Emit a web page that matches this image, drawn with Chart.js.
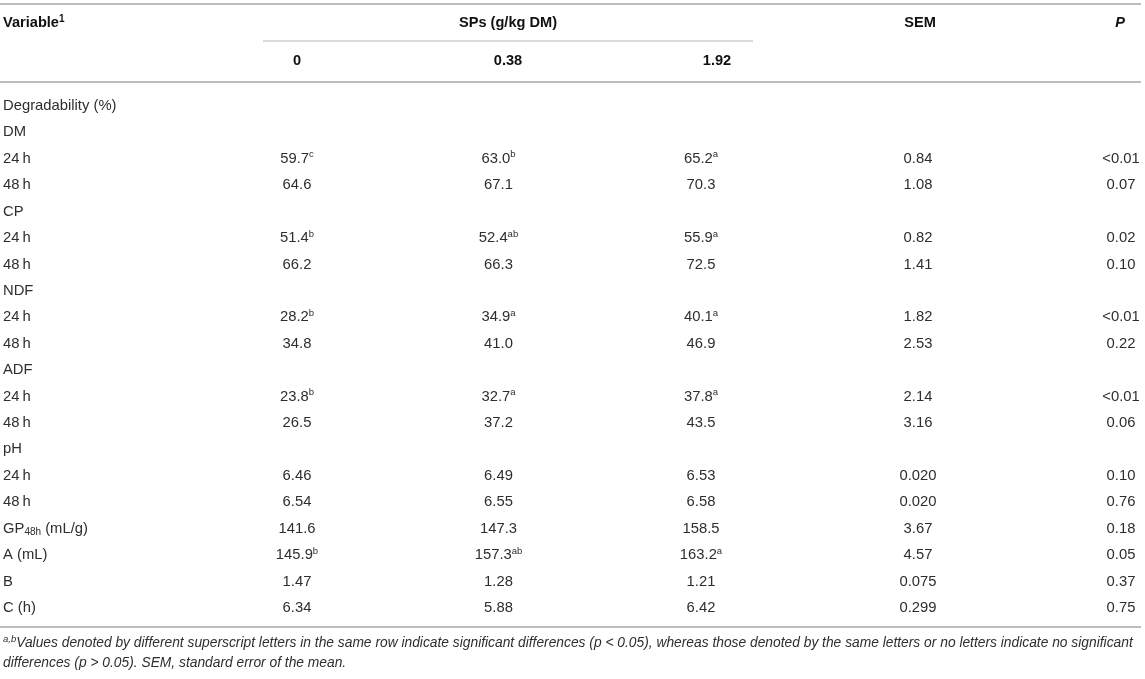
<!DOCTYPE html>
<html>
<head>
<meta charset="utf-8">
<script src="https://cdn.jsdelivr.net/npm/chart.js@4"></script>
<style>
  html, body { margin: 0; padding: 0; background: #ffffff; }
  #wrap { width: 1145px; height: 679px; }
</style>
</head>
<body>
<div id="wrap"><canvas id="c" width="1145" height="679"></canvas></div>
<script>
// ---------------- DATA ----------------
const rowLabels = [
  "Degradability (%)", "DM", "24\u2009h", "48\u2009h", "CP", "24\u2009h", "48\u2009h",
  "NDF", "24\u2009h", "48\u2009h", "ADF", "24\u2009h", "48\u2009h", "pH", "24\u2009h", "48\u2009h",
  "GP~48h~ (mL/g)", "A (mL)", "B", "C (h)"
];
const groupHeader = "SPs (g/kg DM)";
const doseLabels = ["0", "0.38", "1.92"];
const semHeader = "SEM";
const pHeader = "P";
const variableHeader = "Variable^1^";

const sp0Values   = ["", "", "59.7", "64.6", "", "51.4", "66.2", "", "28.2", "34.8", "", "23.8", "26.5", "", "6.46", "6.54", "141.6", "145.9", "1.47", "6.34"];
const sp0Sup      = ["", "", "c",    "",     "", "b",    "",     "", "b",    "",     "", "b",    "",     "", "",     "",     "",      "b",     "",     ""];
const sp038Values = ["", "", "63.0", "67.1", "", "52.4", "66.3", "", "34.9", "41.0", "", "32.7", "37.2", "", "6.49", "6.55", "147.3", "157.3", "1.28", "5.88"];
const sp038Sup    = ["", "", "b",    "",     "", "ab",   "",     "", "a",    "",     "", "a",    "",     "", "",     "",     "",      "ab",    "",     ""];
const sp192Values = ["", "", "65.2", "70.3", "", "55.9", "72.5", "", "40.1", "46.9", "", "37.8", "43.5", "", "6.53", "6.58", "158.5", "163.2", "1.21", "6.42"];
const sp192Sup    = ["", "", "a",    "",     "", "a",    "",     "", "a",    "",     "", "a",    "",     "", "",     "",     "",      "a",     "",     ""];
const semValues   = ["", "", "0.84", "1.08", "", "0.82", "1.41", "", "1.82", "2.53", "", "2.14", "3.16", "", "0.020", "0.020", "3.67", "4.57", "0.075", "0.299"];
const pValues     = ["", "", "<0.01", "0.07", "", "0.02", "0.10", "", "<0.01", "0.22", "", "<0.01", "0.06", "", "0.10", "0.76", "0.18", "0.05", "0.37", "0.75"];

const footnoteLines = [
  "^a,b^Values denoted by different superscript letters in the same row indicate significant differences (p < 0.05), whereas those denoted by the same letters or no letters indicate no significant",
  "differences (p > 0.05). SEM, standard error of the mean."
];

// ---------------- LAYOUT / STYLE ----------------
const LAYOUT = {
  width: 1145, height: 679,
  firstBaseline: 110, rowPitch: 26.42,
  labelX: 3,
  dataX: [297, 498.5, 701, 918, 1121],
  headX: [297, 508, 717, 920, 1120],
  groupX: 508,
  headRow1: 27, headRow2: 65,
  lines: [
    { y: 4,   x1: 0,   x2: 1141, w: 2, c: "#bdbdbd" },
    { y: 41,  x1: 263, x2: 753,  w: 1, c: "#b5b5b5" },
    { y: 82,  x1: 0,   x2: 1141, w: 2, c: "#bdbdbd" },
    { y: 627, x1: 0,   x2: 1141, w: 2, c: "#bdbdbd" }
  ],
  footBaselines: [647, 667],
  bodyFont: "14.8px 'Liberation Sans', Arial, sans-serif",
  bodySupFont: "9.5px 'Liberation Sans', Arial, sans-serif",
  bodySubFont: "10px 'Liberation Sans', Arial, sans-serif",
  headFont: "bold 14.6px 'Liberation Sans', Arial, sans-serif",
  headSupFont: "bold 10px 'Liberation Sans', Arial, sans-serif",
  headItalicFont: "italic bold 14.6px 'Liberation Sans', Arial, sans-serif",
  footFont: "italic 13.8px 'Liberation Sans', Arial, sans-serif",
  footSupFont: "italic 9.5px 'Liberation Sans', Arial, sans-serif",
  bodyColor: "#2e2e2e",
  headColor: "#111111"
};

// y value (row index) for a pixel baseline
function rowValue(px) { return (px - LAYOUT.firstBaseline) / LAYOUT.rowPitch; }
const yMin = rowValue(0);
const yMax = rowValue(LAYOUT.height);

// ---------------- RICH TEXT ----------------
function parseRich(text) {
  const segs = [];
  let mode = "n", buf = "";
  for (const ch of text) {
    if (ch === "^" || ch === "~") {
      if (buf) segs.push({ t: buf, m: mode });
      buf = "";
      const m = ch === "^" ? "sup" : "sub";
      mode = (mode === m) ? "n" : m;
    } else buf += ch;
  }
  if (buf) segs.push({ t: buf, m: mode });
  return segs;
}
function richWidth(ctx, segs, font, smallFont) {
  let w = 0;
  for (const s of segs) { ctx.font = s.m === "n" ? font : smallFont; w += ctx.measureText(s.t).width; }
  return w;
}
function drawRich(ctx, text, x, y, align, font, smallFont, color) {
  const segs = parseRich(text);
  const w = richWidth(ctx, segs, font, smallFont);
  let cx = align === "center" ? x - w / 2 : (align === "right" ? x - w : x);
  ctx.fillStyle = color;
  ctx.textBaseline = "alphabetic";
  ctx.textAlign = "left";
  for (const s of segs) {
    ctx.font = s.m === "n" ? font : smallFont;
    let dy = 0;
    if (s.m === "sup") dy = -5.5;
    if (s.m === "sub") dy = 2.5;
    ctx.fillText(s.t, cx, y + dy);
    cx += ctx.measureText(s.t).width;
  }
}

// ---------------- DATASETS (one per column) ----------------
const columns = [
  { values: rowLabels, sup: null, x: LAYOUT.labelX, align: "left" },
  { values: sp0Values, sup: sp0Sup, x: LAYOUT.dataX[0], align: "center" },
  { values: sp038Values, sup: sp038Sup, x: LAYOUT.dataX[1], align: "center" },
  { values: sp192Values, sup: sp192Sup, x: LAYOUT.dataX[2], align: "center" },
  { values: semValues, sup: null, x: LAYOUT.dataX[3], align: "center" },
  { values: pValues, sup: null, x: LAYOUT.dataX[4], align: "center" }
];

const datasets = columns.map((col, ci) => ({
  label: "col" + ci,
  data: col.values.map((v, ri) => ({ x: col.x, y: ri })),
  pointRadius: 0,
  pointHoverRadius: 0,
  showLine: false,
  cellText: col.values.map((v, ri) => (v && col.sup && col.sup[ri]) ? v + "^" + col.sup[ri] + "^" : v),
  cellAlign: col.align
}));

// header cells as a dataset too
const headerCells = [
  { text: variableHeader, x: LAYOUT.labelX, y: rowValue(LAYOUT.headRow1), align: "left", font: "head" },
  { text: groupHeader, x: LAYOUT.groupX, y: rowValue(LAYOUT.headRow1), align: "center", font: "head" },
  { text: semHeader, x: LAYOUT.headX[3], y: rowValue(LAYOUT.headRow1), align: "center", font: "head" },
  { text: pHeader, x: LAYOUT.headX[4], y: rowValue(LAYOUT.headRow1), align: "center", font: "headItalic" },
  { text: doseLabels[0], x: LAYOUT.headX[0], y: rowValue(LAYOUT.headRow2), align: "center", font: "head" },
  { text: doseLabels[1], x: LAYOUT.headX[1], y: rowValue(LAYOUT.headRow2), align: "center", font: "head" },
  { text: doseLabels[2], x: LAYOUT.headX[2], y: rowValue(LAYOUT.headRow2), align: "center", font: "head" }
];
datasets.push({
  label: "header",
  data: headerCells.map(h => ({ x: h.x, y: h.y })),
  pointRadius: 0, pointHoverRadius: 0, showLine: false,
  isHeader: true
});

// ---------------- PLUGIN ----------------
const tablePlugin = {
  id: "tablePlugin",
  beforeDraw(chart) {
    const ctx = chart.ctx;
    ctx.save();
    ctx.fillStyle = "#ffffff";
    ctx.fillRect(0, 0, chart.width, chart.height);
    ctx.restore();
  },
  afterDatasetsDraw(chart) {
    const ctx = chart.ctx;
    const xs = chart.scales.x, ys = chart.scales.y;
    ctx.save();
    // rules
    for (const ln of LAYOUT.lines) {
      const py = ys.getPixelForValue(rowValue(ln.y));
      ctx.strokeStyle = ln.c;
      ctx.lineWidth = ln.w;
      ctx.beginPath();
      ctx.moveTo(xs.getPixelForValue(ln.x1), py);
      ctx.lineTo(xs.getPixelForValue(ln.x2), py);
      ctx.stroke();
    }
    chart.data.datasets.forEach((ds, di) => {
      const meta = chart.getDatasetMeta(di);
      meta.data.forEach((el, i) => {
        if (ds.isHeader) {
          const h = headerCells[i];
          const f = h.font === "headItalic" ? LAYOUT.headItalicFont : LAYOUT.headFont;
          drawRich(ctx, h.text, el.x, el.y, h.align, f, LAYOUT.headSupFont, LAYOUT.headColor);
        } else {
          const t = ds.cellText[i];
          if (!t) return;
          const small = t.indexOf("~") >= 0 ? LAYOUT.bodySubFont : LAYOUT.bodySupFont;
          drawRich(ctx, t, el.x, el.y, ds.cellAlign, LAYOUT.bodyFont, small, LAYOUT.bodyColor);
        }
      });
    });
    // footnote
    footnoteLines.forEach((line, i) => {
      const py = ys.getPixelForValue(rowValue(LAYOUT.footBaselines[i]));
      drawRich(ctx, line, xs.getPixelForValue(LAYOUT.labelX), py, "left", LAYOUT.footFont, LAYOUT.footSupFont, LAYOUT.bodyColor);
    });
    ctx.restore();
  }
};

new Chart(document.getElementById("c"), {
  type: "scatter",
  data: { datasets },
  options: {
    responsive: false,
    animation: false,
    events: [],
    layout: { padding: 0 },
    plugins: { legend: { display: false }, tooltip: { enabled: false } },
    scales: {
      x: { type: "linear", display: false, min: 0, max: LAYOUT.width },
      y: { type: "linear", display: false, reverse: true, min: yMin, max: yMax }
    }
  },
  plugins: [tablePlugin]
});
</script>
</body>
</html>
